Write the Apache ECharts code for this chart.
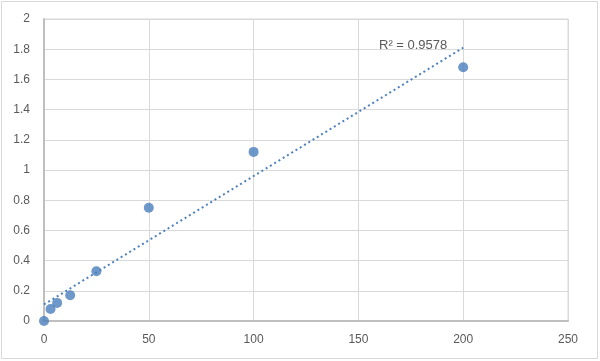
<!DOCTYPE html>
<html><head><meta charset="utf-8">
<script src="https://cdn.jsdelivr.net/npm/echarts@6/dist/echarts.min.js"></script>
<style>html,body{margin:0;padding:0;background:#fff}#c{width:600px;height:361px}</style>
</head><body><div id="c"></div>
<script>
const xValues = [0, 3.125, 6.25, 12.5, 25, 50, 100, 200];
const yValues = [0, 0.08, 0.12, 0.17, 0.33, 0.75, 1.12, 1.68];
const xTicks = [0, 50, 100, 150, 200, 250];
const yTicks = [0, 0.2, 0.4, 0.6, 0.8, 1, 1.2, 1.4, 1.6, 1.8, 2];
const r2Label = 'R² = 0.9578';

// linear least-squares trendline from data
const n = xValues.length;
const mx = xValues.reduce((a,b)=>a+b,0)/n;
const my = yValues.reduce((a,b)=>a+b,0)/n;
let sxy=0, sxx=0;
for (let i=0;i<n;i++){ sxy += (xValues[i]-mx)*(yValues[i]-my); sxx += (xValues[i]-mx)**2; }
const slope = sxy/sxx, icpt = my - slope*mx;
const xMin = Math.min(...xValues), xMax = Math.max(...xValues);
const trend = [[xMin, icpt+slope*xMin],[xMax, icpt+slope*xMax]];

const chart = echarts.init(document.getElementById('c'));
const lbl = {color:'#595959', fontSize:12, fontFamily:'Liberation Sans, Arial, sans-serif'};
chart.setOption({
  animation:false,
  grid:{left:44, right:32, top:19, bottom:40, show:true, borderColor:'#d9d9d9', borderWidth:1},
  xAxis:{type:'value', min:xTicks[0], max:xTicks[xTicks.length-1], interval:50,
    axisLine:{show:true, onZero:false, lineStyle:{color:'#bfbfbf', width:2}},
    axisTick:{show:false}, axisLabel:Object.assign({margin:13}, lbl),
    splitLine:{show:true, lineStyle:{color:'#d9d9d9'}}},
  yAxis:{type:'value', min:yTicks[0], max:yTicks[yTicks.length-1], interval:0.2,
    axisLine:{show:true, onZero:false, lineStyle:{color:'#bfbfbf', width:2}},
    axisTick:{show:false}, axisLabel:Object.assign({margin:14}, lbl),
    splitLine:{show:true, lineStyle:{color:'#d9d9d9'}}},
  graphic:[
    {type:'rect', shape:{x:1.5,y:1.5,width:596,height:357}, style:{fill:null, stroke:'#d9d9d9', lineWidth:1}, silent:true},
    {type:'text', left:379, top:39, style:{text:r2Label, fill:'#595959', font:'13px Liberation Sans, Arial, sans-serif'}}
  ],
  series:[
    {type:'line', data:trend, symbol:'none', lineStyle:{color:'#4e81bd', width:2, type:[2,3]}, z:1},
    {type:'scatter', data:xValues.map((x,i)=>[x,yValues[i]]), symbolSize:10, itemStyle:{color:'#4a7ebb'}, z:2}
  ]
});
</script></body></html>
